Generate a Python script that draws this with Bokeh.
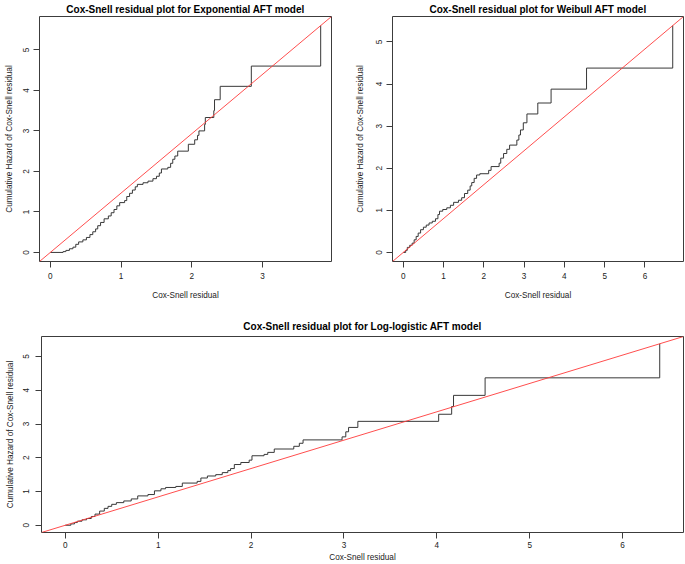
from bokeh.plotting import figure
from bokeh.models import Range1d, FixedTicker, Slope
from bokeh.layouts import column, row
from bokeh.embed import file_html
from bokeh.resources import INLINE

# ---------------- data ----------------
exp_resid = [0.00, 0.18, 0.22, 0.27, 0.32, 0.36, 0.40, 0.46, 0.51, 0.56, 0.60, 0.64,
             0.67, 0.71, 0.76, 0.82, 0.86, 0.90, 0.94, 0.98, 1.05, 1.08, 1.12, 1.16,
             1.20, 1.23, 1.31, 1.38, 1.45, 1.50, 1.54, 1.57, 1.66, 1.70, 1.73, 1.76,
             1.80, 1.95, 2.04, 2.08, 2.10, 2.18, 2.19, 2.31, 2.32, 2.40, 2.84, 3.82]
exp_cumhaz = [0.00, 0.02, 0.05, 0.09, 0.13, 0.20, 0.26, 0.31, 0.37, 0.44, 0.51, 0.58,
              0.66, 0.74, 0.83, 0.90, 0.98, 1.06, 1.15, 1.23, 1.28, 1.38, 1.46, 1.54,
              1.62, 1.68, 1.72, 1.76, 1.82, 1.88, 1.96, 2.06, 2.10, 2.20, 2.30, 2.38,
              2.50, 2.67, 2.78, 2.89, 3.00, 3.16, 3.33, 3.50, 3.77, 4.10, 4.60, 5.60]

wei_resid = [0.00, 0.06, 0.10, 0.16, 0.22, 0.27, 0.32, 0.37, 0.43, 0.50, 0.57, 0.64,
             0.72, 0.80, 0.86, 0.90, 0.98, 1.08, 1.17, 1.25, 1.37, 1.45, 1.52, 1.60,
             1.66, 1.70, 1.76, 1.82, 1.90, 2.12, 2.18, 2.38, 2.42, 2.49, 2.57, 2.64,
             2.82, 2.87, 2.91, 2.98, 3.07, 3.34, 3.67, 4.55, 6.69]
wei_cumhaz = [0.00, 0.05, 0.12, 0.17, 0.22, 0.30, 0.38, 0.46, 0.54, 0.60, 0.65, 0.70,
              0.74, 0.80, 0.90, 0.98, 1.02, 1.06, 1.12, 1.19, 1.24, 1.30, 1.40, 1.48,
              1.58, 1.66, 1.76, 1.84, 1.87, 1.95, 2.04, 2.12, 2.24, 2.35, 2.45, 2.55,
              2.67, 2.79, 2.91, 3.08, 3.29, 3.55, 3.88, 4.38, 5.39]

llog_resid = [0.00, 0.06, 0.10, 0.13, 0.18, 0.23, 0.28, 0.32, 0.37, 0.42, 0.46, 0.50,
              0.55, 0.63, 0.71, 0.78, 0.89, 0.96, 1.03, 1.08, 1.19, 1.26, 1.42, 1.46,
              1.53, 1.62, 1.69, 1.75, 1.78, 1.82, 1.89, 1.98, 2.01, 2.14, 2.18, 2.25,
              2.46, 2.52, 2.56, 2.98, 3.02, 3.05, 3.15, 4.02, 4.16, 4.18, 4.52, 6.40]
llog_cumhaz = [0.00, 0.04, 0.08, 0.12, 0.16, 0.20, 0.26, 0.33, 0.42, 0.50, 0.56, 0.62,
               0.67, 0.72, 0.78, 0.87, 0.91, 1.02, 1.08, 1.12, 1.15, 1.25, 1.30, 1.40,
               1.46, 1.50, 1.56, 1.62, 1.68, 1.80, 1.86, 1.93, 2.06, 2.10, 2.16, 2.26,
               2.34, 2.43, 2.53, 2.62, 2.77, 2.90, 3.08, 3.29, 3.52, 3.85, 4.37, 5.38]

titles = ["Cox-Snell residual plot for Exponential AFT model",
          "Cox-Snell residual plot for Weibull AFT model",
          "Cox-Snell residual plot for Log-logistic AFT model"]
x_label = "Cox-Snell residual"
y_label = "Cumulative Hazard of Cox-Snell residual"
x_ticks_exp = [0, 1, 2, 3]
x_ticks_other = [0, 1, 2, 3, 4, 5, 6]
y_ticks = [0, 1, 2, 3, 4, 5]

FONT = "Liberation Sans"
INK = "#222222"


def padded(vals):
    lo, hi = min(vals), max(vals)
    pad = 0.04 * (hi - lo)
    return Range1d(lo - pad, hi + pad)


def panel(xs, ys, title, xticks, width, height, bl, br, bt, bb,
          title_standoff, x_lab_so, x_axis_so, y_lab_so, y_axis_so):
    p = figure(width=width, height=height, output_backend="svg", toolbar_location=None,
               x_range=padded(xs), y_range=padded(ys),
               min_border_left=bl, min_border_right=br,
               min_border_top=bt, min_border_bottom=bb,
               background_fill_color="white", border_fill_color="white")
    p.title.text = title
    p.title.text_font = FONT
    p.title.text_font_size = "10px"
    p.title.text_font_style = "bold"
    p.title.text_color = "black"
    p.title.align = "center"
    p.title.standoff = title_standoff
    p.xgrid.visible = False
    p.ygrid.visible = False
    p.outline_line_color = "#3c3c3c"
    p.outline_line_width = 1
    p.outline_line_alpha = 1

    p.xaxis.ticker = FixedTicker(ticks=xticks)
    p.yaxis.ticker = FixedTicker(ticks=y_ticks)
    p.yaxis.major_label_orientation = "vertical"
    for ax in (p.xaxis, p.yaxis):
        ax.axis_line_color = None
        ax.major_tick_line_color = "#3c3c3c"
        ax.major_tick_out = 6
        ax.major_tick_in = 0
        ax.minor_tick_line_color = None
        ax.major_label_text_font = FONT
        ax.major_label_text_font_size = "8.2px"
        ax.major_label_text_color = INK
        ax.axis_label_text_font = FONT
        ax.axis_label_text_font_size = "8.2px"
        ax.axis_label_text_font_style = "normal"
        ax.axis_label_text_color = INK
    p.xaxis.axis_label = x_label
    p.yaxis.axis_label = y_label
    p.xaxis.major_label_standoff = x_lab_so
    p.xaxis.axis_label_standoff = x_axis_so
    p.yaxis.major_label_standoff = y_lab_so
    p.yaxis.axis_label_standoff = y_axis_so

    p.step(xs, ys, mode="after", line_color="#383838", line_width=1)
    # reference line from the origin through the last point of the curve
    p.add_layout(Slope(gradient=max(ys) / max(xs), y_intercept=0,
                       line_color="#ff3a3a", line_width=0.9))
    return p


p1 = panel(exp_resid, exp_cumhaz, titles[0], x_ticks_exp, 345, 305, 39, 14, 16, 44,
           3, 5, 9, 4, 7)
p2 = panel(wei_resid, wei_cumhaz, titles[1], x_ticks_other, 340, 305, 47, 2, 16, 43,
           3, 5, 9, 4, 9)
p3 = panel(llog_resid, llog_cumhaz, titles[2], x_ticks_other, 685, 259, 41, 2, 31, 32,
           10, 3, 2, 6, 6)

layout = column(row(p1, p2), p3)

open("out.html", "w").write(file_html(layout, INLINE))
